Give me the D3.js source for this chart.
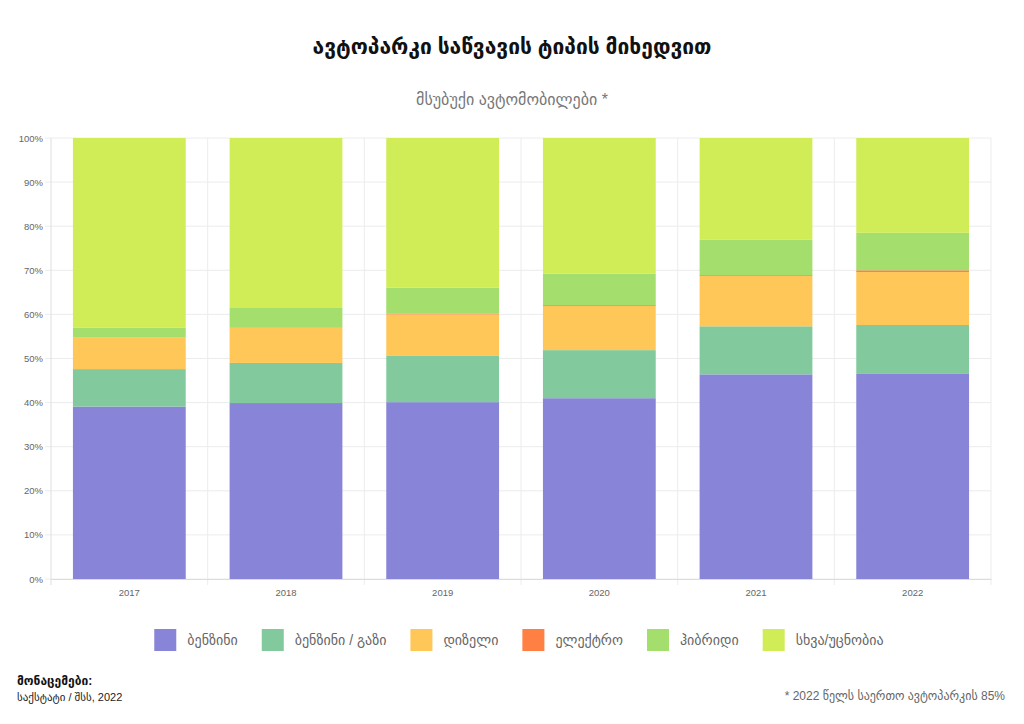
<!DOCTYPE html>
<html>
<head>
<meta charset="utf-8">
<script src="https://cdn.jsdelivr.net/npm/d3@7"></script>
<style>
  body { margin: 0; background: #fff; }
  svg { display: block; font-family: "Liberation Sans", "DejaVu Sans", sans-serif; }
</style>
</head>
<body>
<svg id="chart" width="1024" height="724"></svg>
<script>
// data (share of passenger cars, %)
const years = ["2017", "2018", "2019", "2020", "2021", "2022"];
const fuelNames = ["ბენზინი", "ბენზინი / გაზი", "დიზელი", "ელექტრო", "ჰიბრიდი", "სხვა/უცნობია"];
const benzin   = [39.1, 39.9, 40.1, 41.0, 46.4, 46.5];
const benzGas  = [8.5, 9.1, 10.6, 10.9, 10.9, 11.1];
const diesel   = [7.1, 8.0, 9.3, 10.0, 11.4, 12.0];
const electric = [0.05, 0.1, 0.2, 0.2, 0.2, 0.4];
const hybrid   = [2.2, 4.5, 5.9, 7.1, 8.0, 8.5];
const other    = [43.05, 38.4, 33.9, 30.8, 23.1, 21.5];
const yTicks = [0, 10, 20, 30, 40, 50, 60, 70, 80, 90, 100];
const colors = ["#8884d8", "#82ca9d", "#ffc658", "#ff8042", "#a4de6c", "#d0ed57"];

const series = [benzin, benzGas, diesel, electric, hybrid, other];
const keys = fuelNames;
const rows = years.map((yr, i) => {
  const r = { year: yr };
  keys.forEach((k, j) => r[k] = series[j][i]);
  return r;
});

const svg = d3.select("#chart");
const plotL = 51, plotR = 991, plotT = 138, plotB = 579;

const x = d3.scaleBand()
  .domain(years)
  .range([plotL, plotR])
  .paddingInner(0.28)
  .paddingOuter(0.14);

const y = d3.scaleLinear()
  .domain([0, 100])
  .range([plotB, plotT]);

// title
svg.append("text")
  .attr("x", 512).attr("y", 54)
  .attr("text-anchor", "middle")
  .style("font-size", "21px")
  .style("font-weight", "bold")
  .attr("fill", "#111")
  .text("ავტოპარკი საწვავის ტიპის მიხედვით");

svg.append("text")
  .attr("x", 512).attr("y", 105)
  .attr("text-anchor", "middle")
  .style("font-size", "16px")
  .attr("fill", "#777")
  .text("მსუბუქი ავტომობილები *");

// grid
const grid = svg.append("g");
grid.selectAll("line.h")
  .data(yTicks)
  .enter().append("line")
  .attr("x1", plotL - 6).attr("x2", plotR)
  .attr("y1", d => y(d)).attr("y2", d => y(d))
  .attr("stroke", "#ececec");

const step = x.step();
grid.selectAll("line.v")
  .data(d3.range(years.length + 1))
  .enter().append("line")
  .attr("x1", i => plotL + i * step).attr("x2", i => plotL + i * step)
  .attr("y1", plotT).attr("y2", plotB + 6)
  .attr("stroke", i => i === 0 ? "#dedede" : "#ececec");

// y axis labels
const yAxis = svg.append("g")
  .attr("transform", `translate(${plotL - 6},0)`)
  .call(d3.axisLeft(y).tickValues(yTicks).tickFormat(d => d + "%").tickSize(0).tickPadding(2));
yAxis.select(".domain").remove();
yAxis.selectAll("text").style("font-size", "9.5px").attr("fill", "#666");

// bars
const stacked = d3.stack().keys(keys)(rows);
svg.append("g")
  .selectAll("g")
  .data(stacked)
  .enter().append("g")
  .attr("fill", (d, i) => colors[i])
  .selectAll("rect")
  .data(d => d)
  .enter().append("rect")
  .attr("x", d => x(d.data.year))
  .attr("width", x.bandwidth())
  .attr("y", d => y(d[1]))
  .attr("height", d => y(d[0]) - y(d[1]));

// x axis
const xAxis = svg.append("g")
  .attr("transform", `translate(0,${plotB})`)
  .call(d3.axisBottom(x).tickSize(0).tickPadding(10));
xAxis.select(".domain").attr("stroke", "#dcdcdc");
xAxis.selectAll("text").style("font-size", "9.5px").attr("fill", "#666");

// legend
const legend = svg.append("g");
const items = legend.selectAll("g")
  .data(fuelNames)
  .enter().append("g");
items.append("rect")
  .attr("width", 22).attr("height", 22)
  .attr("y", -11)
  .attr("fill", (d, i) => colors[i]);
items.append("text")
  .attr("x", 33).attr("y", 5)
  .style("font-size", "14px")
  .attr("fill", "#666")
  .text(d => d);
let pos = 0;
const offsets = [];
items.each(function () {
  offsets.push(pos);
  const w = this.querySelector("text").getComputedTextLength();
  pos += 33 + w + 24;
});
const total = pos - 24;
const startX = 519 - total / 2;
items.attr("transform", (d, i) => `translate(${startX + offsets[i]},640)`);

// footer
svg.append("text")
  .attr("x", 17).attr("y", 685)
  .style("font-size", "12px")
  .style("font-weight", "bold")
  .attr("fill", "#111")
  .text("მონაცემები:");
svg.append("text")
  .attr("x", 17).attr("y", 701)
  .style("font-size", "11px")
  .attr("fill", "#222")
  .text("საქსტატი / შსს, 2022");
svg.append("text")
  .attr("x", 1005).attr("y", 700)
  .attr("text-anchor", "end")
  .style("font-size", "12px")
  .attr("fill", "#666")
  .text("* 2022 წელს საერთო ავტოპარკის 85%");
</script>
</body>
</html>
